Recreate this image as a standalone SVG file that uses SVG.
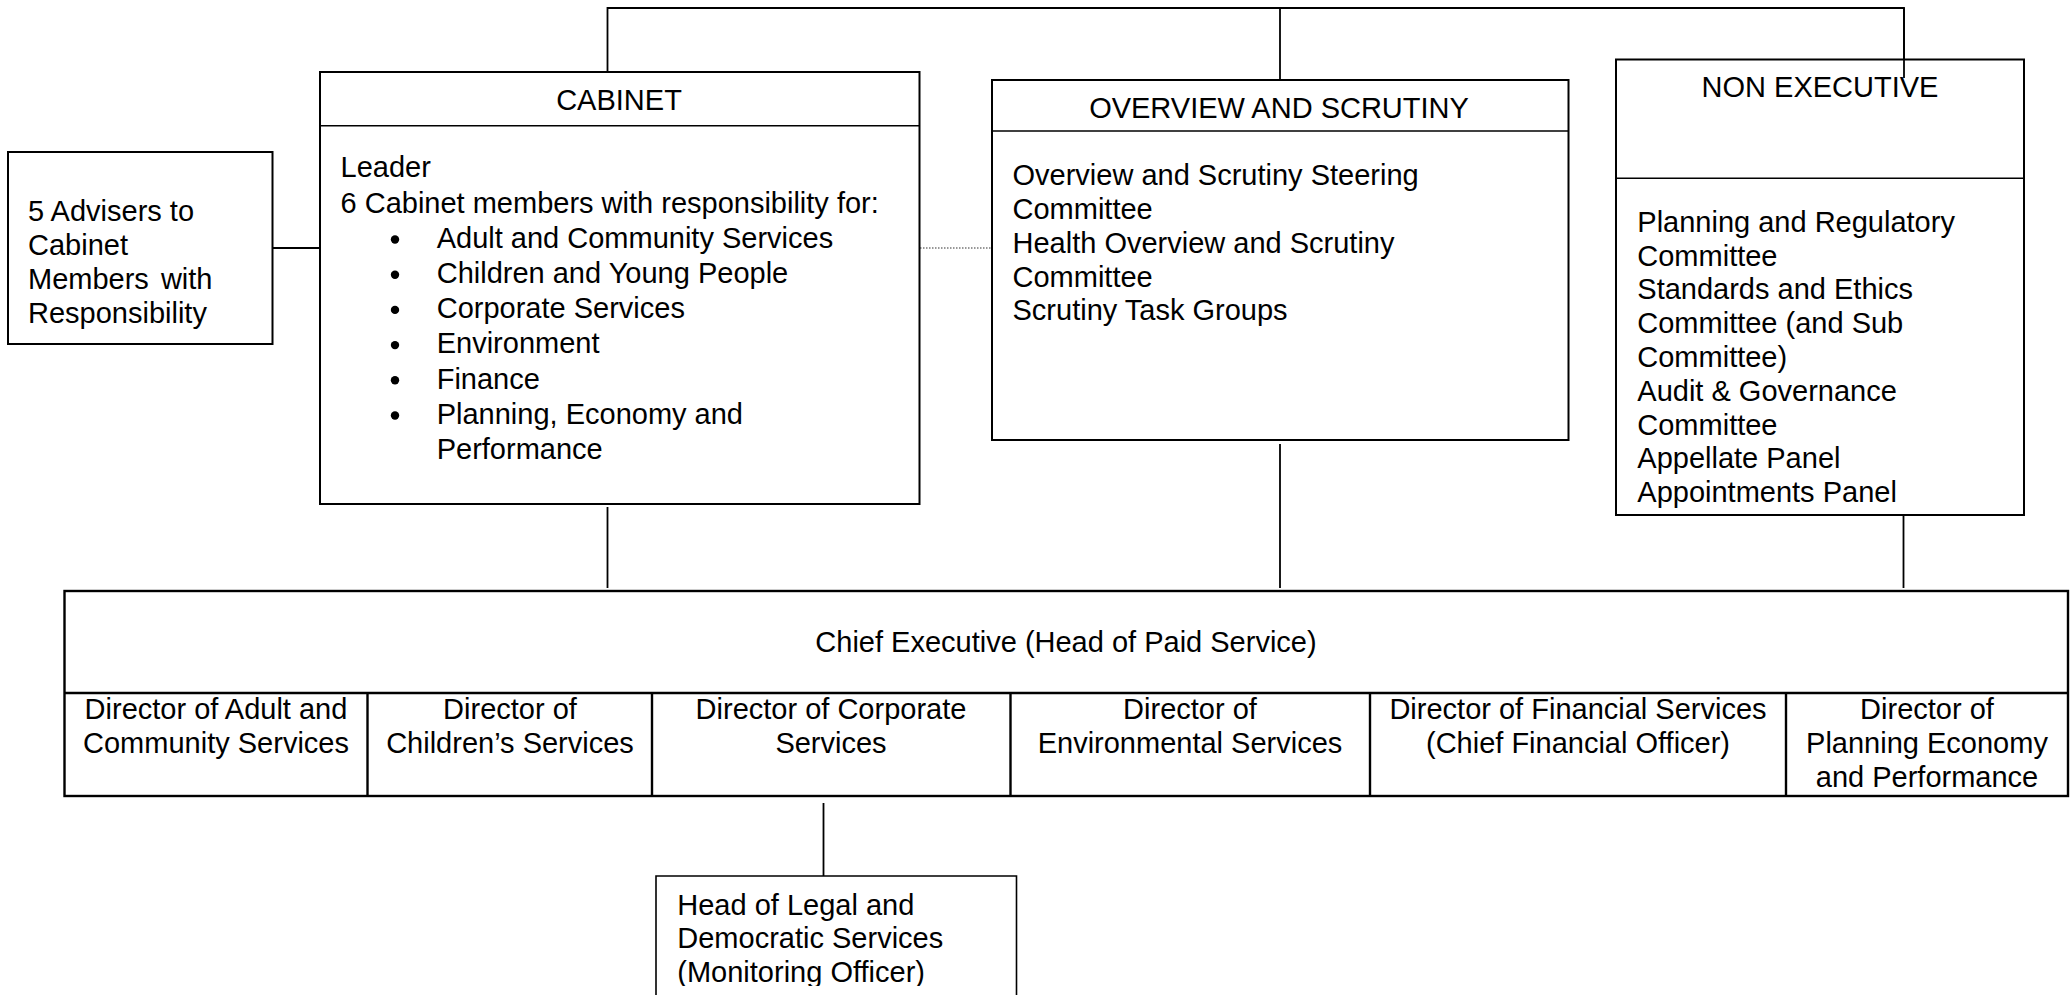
<svg xmlns="http://www.w3.org/2000/svg" width="2071" height="995" viewBox="0 0 2071 995">
<defs>
<style>
.box{fill:#fff;stroke:#000;stroke-width:2}
.thin{fill:none;stroke:#000;stroke-width:1.6}
.cel{fill:none;stroke:#000;stroke-width:2.4}
.con{fill:none;stroke:#000;stroke-width:1.8}
.dot{fill:none;stroke:#333;stroke-width:1.2;stroke-dasharray:1.5 1.5}
text{font-family:"Liberation Sans",Arial,sans-serif;font-size:29px;fill:#000}
.mid{text-anchor:middle}
</style>
<clipPath id="legalclip"><rect x="650" y="870" width="380" height="116"/></clipPath>
</defs>
<rect width="2071" height="995" fill="#fff"/>

<g id="connectors">
<polyline class="con" points="607.5,80 607.5,8 1904,8 1904,78"/>
<line class="con" x1="1280" y1="8" x2="1280" y2="80"/>
<line class="con" x1="272.5" y1="248" x2="320" y2="248"/>
<line class="dot" x1="920" y1="248" x2="992" y2="248"/>
<line class="con" x1="607.5" y1="507" x2="607.5" y2="588"/>
<line class="con" x1="1280" y1="444" x2="1280" y2="588"/>
<line class="con" x1="1903.5" y1="515" x2="1903.5" y2="588"/>
<line class="con" x1="823.5" y1="803" x2="823.5" y2="876"/>
</g>

<g id="advisers">
<rect class="box" x="8" y="152" width="264.5" height="192"/>
<text x="28" y="221">5 Advisers to</text>
<text x="28" y="255">Cabinet</text>
<text x="28" y="289" word-spacing="4">Members with</text>
<text x="28" y="323">Responsibility</text>
</g>

<g id="cabinet">
<rect class="box" x="320" y="72" width="599.5" height="432"/>
<line class="thin" x1="320" y1="125.7" x2="919.5" y2="125.7"/>
<text class="mid" x="619" y="110">CABINET</text>
<text x="340.5" y="177.3">Leader</text>
<text x="340.5" y="212.5">6 Cabinet members with responsibility for:</text>
<g fill="#000">
<circle cx="395" cy="239.5" r="4.2"/>
<circle cx="395" cy="274.7" r="4.2"/>
<circle cx="395" cy="309.9" r="4.2"/>
<circle cx="395" cy="345.1" r="4.2"/>
<circle cx="395" cy="380.3" r="4.2"/>
<circle cx="395" cy="415.5" r="4.2"/>
</g>
<text x="436.7" y="247.7">Adult and Community Services</text>
<text x="436.7" y="282.9">Children and Young People</text>
<text x="436.7" y="318.1">Corporate Services</text>
<text x="436.7" y="353.3">Environment</text>
<text x="436.7" y="388.5">Finance</text>
<text x="436.7" y="423.7">Planning, Economy and</text>
<text x="436.7" y="458.9">Performance</text>
</g>

<g id="overview">
<rect class="box" x="992" y="80" width="576.5" height="360"/>
<line class="thin" x1="992" y1="131" x2="1568.5" y2="131"/>
<text class="mid" x="1279" y="118.3">OVERVIEW AND SCRUTINY</text>
<text x="1012.5" y="185">Overview and Scrutiny Steering</text>
<text x="1012.5" y="219">Committee</text>
<text x="1012.5" y="252.7">Health Overview and Scrutiny</text>
<text x="1012.5" y="286.7">Committee</text>
<text x="1012.5" y="319.5">Scrutiny Task Groups</text>
</g>

<g id="non-executive">
<rect class="box" x="1616" y="59.5" width="408" height="455.5"/>
<line class="thin" x1="1616" y1="178.3" x2="2024" y2="178.3"/>
<text class="mid" x="1820" y="96.7">NON EXECUTIVE</text>
<text x="1637.3" y="231.7">Planning and Regulatory</text>
<text x="1637.3" y="265.5">Committee</text>
<text x="1637.3" y="299.3">Standards and Ethics</text>
<text x="1637.3" y="333.1">Committee (and Sub</text>
<text x="1637.3" y="366.9">Committee)</text>
<text x="1637.3" y="400.7">Audit &amp; Governance</text>
<text x="1637.3" y="434.5">Committee</text>
<text x="1637.3" y="468.3">Appellate Panel</text>
<text x="1637.3" y="502">Appointments Panel</text>
</g>
<line class="con" x1="1904" y1="8" x2="1904" y2="78"/>

<g id="chief-executive">
<rect class="cel" x="64.5" y="591" width="2003.5" height="205"/>
<line class="cel" x1="64.5" y1="693" x2="2068" y2="693"/>
<text class="mid" x="1066" y="651.7">Chief Executive (Head of Paid Service)</text>
</g>

<g id="dir-adult">
<line class="cel" x1="367.5" y1="693" x2="367.5" y2="796"/>
<text class="mid" x="216" y="719.3">Director of Adult and</text>
<text class="mid" x="216" y="753.3">Community Services</text>
</g>
<g id="dir-children">
<line class="cel" x1="652" y1="693" x2="652" y2="796"/>
<text class="mid" x="510" y="719.3">Director of</text>
<text class="mid" x="510" y="753.3">Children’s Services</text>
</g>
<g id="dir-corporate">
<line class="cel" x1="1010.5" y1="693" x2="1010.5" y2="796"/>
<text class="mid" x="831" y="719.3">Director of Corporate</text>
<text class="mid" x="831" y="753.3">Services</text>
</g>
<g id="dir-environment">
<line class="cel" x1="1370" y1="693" x2="1370" y2="796"/>
<text class="mid" x="1190" y="719.3">Director of</text>
<text class="mid" x="1190" y="753.3">Environmental Services</text>
</g>
<g id="dir-finance">
<line class="cel" x1="1786" y1="693" x2="1786" y2="796"/>
<text class="mid" x="1578" y="719.3">Director of Financial Services</text>
<text class="mid" x="1578" y="753.3">(Chief Financial Officer)</text>
</g>
<g id="dir-planning">
<text class="mid" x="1927" y="719.3">Director of</text>
<text class="mid" x="1927" y="753.3">Planning Economy</text>
<text class="mid" x="1927" y="786.7">and Performance</text>
</g>

<g id="head-legal">
<polyline class="thin" points="656,1000 656,876 1016.5,876 1016.5,1000"/>
<g clip-path="url(#legalclip)">
<text x="677.3" y="915">Head of Legal and</text>
<text x="677.3" y="948.3">Democratic Services</text>
<text x="677.3" y="981.7">(Monitoring Officer)</text>
</g>
</g>
</svg>
